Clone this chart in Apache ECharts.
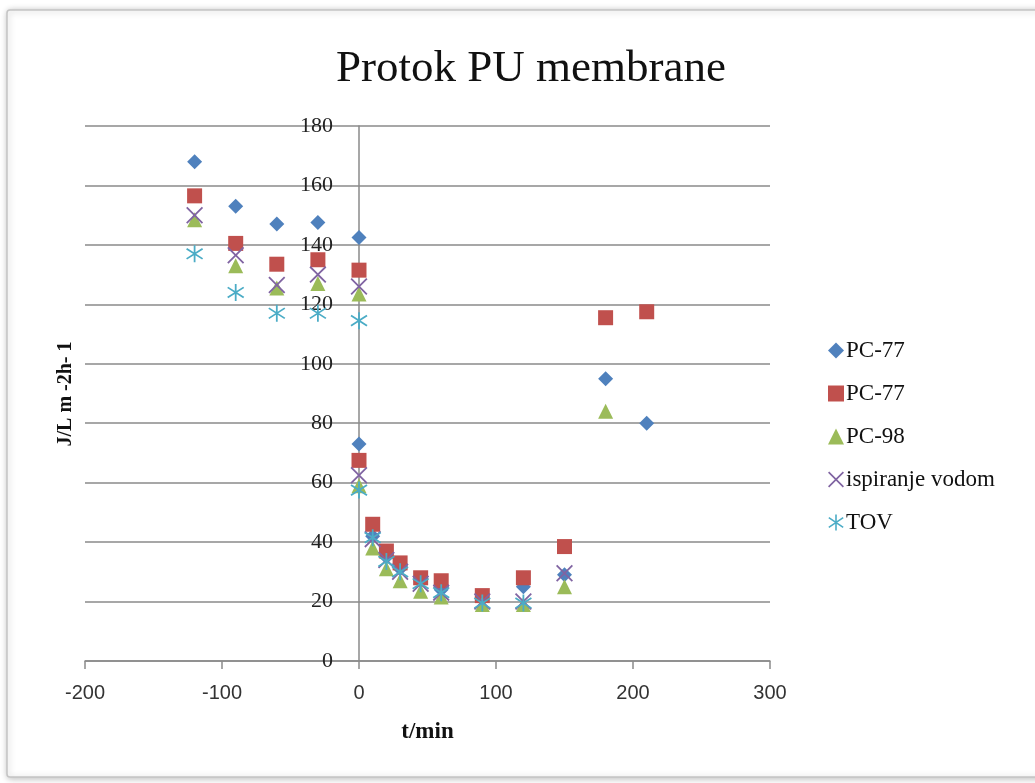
<!DOCTYPE html>
<html>
<head>
<meta charset="utf-8">
<script src="https://cdn.jsdelivr.net/npm/echarts@6/dist/echarts.min.js"></script>
<style>html,body{margin:0;padding:0;background:#fff}#c{width:1035px;height:783px}</style>
</head>
<body>
<div id="c"></div>
<script>
// ---- data ----
var xTicks = [-200, -100, 0, 100, 200, 300];
var yTicks = [0, 20, 40, 60, 80, 100, 120, 140, 160, 180];

var pc77aX = [-120, -90, -60, -30, 0, 0, 10, 20, 30, 45, 60, 90, 120, 150, 180, 210];
var pc77aY = [168, 153, 147, 147.5, 142.5, 73, 42, 35, 31, 27, 24, 21, 25, 29, 95, 80];

var pc77bX = [-120, -90, -60, -30, 0, 0, 10, 20, 30, 45, 60, 90, 120, 150, 180, 210];
var pc77bY = [156.5, 140.5, 133.5, 135, 131.5, 67.5, 46, 37, 33, 28, 27, 22, 28, 38.5, 115.5, 117.5];

var pc98X = [-120, -90, -60, -30, 0, 0, 10, 20, 30, 45, 60, 90, 120, 150, 180];
var pc98Y = [148.5, 133, 125.5, 127, 123.5, 59, 38, 31, 27, 23.5, 21.5, 19, 19, 25, 84];

var ispX = [-120, -90, -60, -30, 0, 0, 10, 20, 30, 45, 60, 90, 120, 150];
var ispY = [150, 136.5, 126.5, 130, 126, 62.5, 41, 34, 30, 26, 23, 20, 20, 29.5];

var tovX = [-120, -90, -60, -30, 0, 0, 10, 20, 30, 45, 60, 90, 120];
var tovY = [137, 124, 117, 117, 114.5, 57.5, 41.5, 33.5, 30, 26, 23, 19.5, 19.5];

var seriesNames = ['PC-77', 'PC-77 ', 'PC-98', 'ispiranje vodom', 'TOV'];

function pairs(xs, ys) { return xs.map(function (x, i) { return [x, ys[i]]; }); }

var X_PATH = 'path://M0,1.5L1.5,0L10,8.5L18.5,0L20,1.5L11.5,10L20,18.5L18.5,20L10,11.5L1.5,20L0,18.5L8.5,10Z';
var STAR_PATH = 'path://M9,0L11,0L11,20L9,20Z' +
  'M1.555,3.168L19.555,15.168L18.445,16.832L0.445,4.832Z' +
  'M0.445,15.168L18.445,3.168L19.555,4.832L1.555,16.832Z';

var serif = 'Liberation Serif';
var chart = echarts.init(document.getElementById('c'));
chart.setOption({
  animation: false,
  backgroundColor: '#fff',
  graphic: [
    { type: 'rect', z: -10, shape: { x: 7, y: 10, width: 1040, height: 767, r: 3 },
      style: { fill: '#fff', stroke: '#c4c4c4', lineWidth: 1.5, shadowBlur: 6, shadowColor: 'rgba(0,0,0,0.25)', shadowOffsetX: 1, shadowOffsetY: 1 } },
    { type: 'text', z: 10, x: 66, y: 394, rotation: Math.PI / 2,
      style: { text: 'J/L m -2h- 1', font: 'bold 20px "Liberation Serif"', fill: '#111', align: 'center', verticalAlign: 'middle' } }
  ],
  title: {
    text: 'Protok PU membrane',
    left: 526, top: 42, textAlign: 'center',
    textStyle: { fontFamily: serif, fontSize: 45, fontWeight: 'normal', color: '#111' }
  },
  legend: {
    orient: 'vertical', left: 823, top: 334,
    itemWidth: 16, itemHeight: 16, itemGap: 20,
    textStyle: { fontFamily: serif, fontSize: 23, color: '#111', padding: [0, 0, 0, -3] },
    data: seriesNames
  },
  grid: { left: 85, right: 265, top: 126, bottom: 122, containLabel: false },
  xAxis: {
    type: 'value', min: -200, max: 300, interval: 100,
    name: 't/min', nameLocation: 'middle', nameGap: 60,
    nameTextStyle: { fontFamily: serif, fontSize: 23, fontWeight: 'bold', color: '#111' },
    axisLine: { show: true, lineStyle: { color: '#8a8a8a', width: 1.5 } },
    axisTick: { show: true, length: 8, lineStyle: { color: '#8a8a8a', width: 1.5 } },
    axisLabel: { fontFamily: 'Liberation Sans', fontSize: 20, color: '#333', margin: 22,
      customValues: xTicks },
    splitLine: { show: false }
  },
  yAxis: {
    type: 'value', min: 0, max: 180, interval: 20, offset: -274,
    axisLine: { show: true, onZero: false, lineStyle: { color: '#8a8a8a', width: 1.5 } },
    axisTick: { show: false },
    axisLabel: { fontFamily: serif, fontSize: 22, color: '#222', margin: 26 },
    splitLine: { show: true, lineStyle: { color: '#8a8a8a', width: 1.5 } }
  },
  series: [
    { name: seriesNames[0], type: 'scatter', symbol: 'diamond', symbolSize: 15,
      itemStyle: { color: '#4F81BD', opacity: 1 }, data: pairs(pc77aX, pc77aY), z: 1 },
    { name: seriesNames[1], type: 'scatter', symbol: 'rect', symbolSize: 15,
      itemStyle: { color: '#C0504D', opacity: 1 }, data: pairs(pc77bX, pc77bY), z: 2 },
    { name: seriesNames[2], type: 'scatter', symbol: 'triangle', symbolSize: 15,
      itemStyle: { color: '#9BBB59', opacity: 1 }, data: pairs(pc98X, pc98Y), z: 3 },
    { name: seriesNames[3], type: 'scatter', symbol: X_PATH, symbolSize: 17,
      itemStyle: { color: '#8064A2', opacity: 1 }, data: pairs(ispX, ispY), z: 4 },
    { name: seriesNames[4], type: 'scatter', symbol: STAR_PATH, symbolSize: 17,
      itemStyle: { color: '#4BACC6', opacity: 1 }, data: pairs(tovX, tovY), z: 5 }
  ]
});
</script>
</body>
</html>
